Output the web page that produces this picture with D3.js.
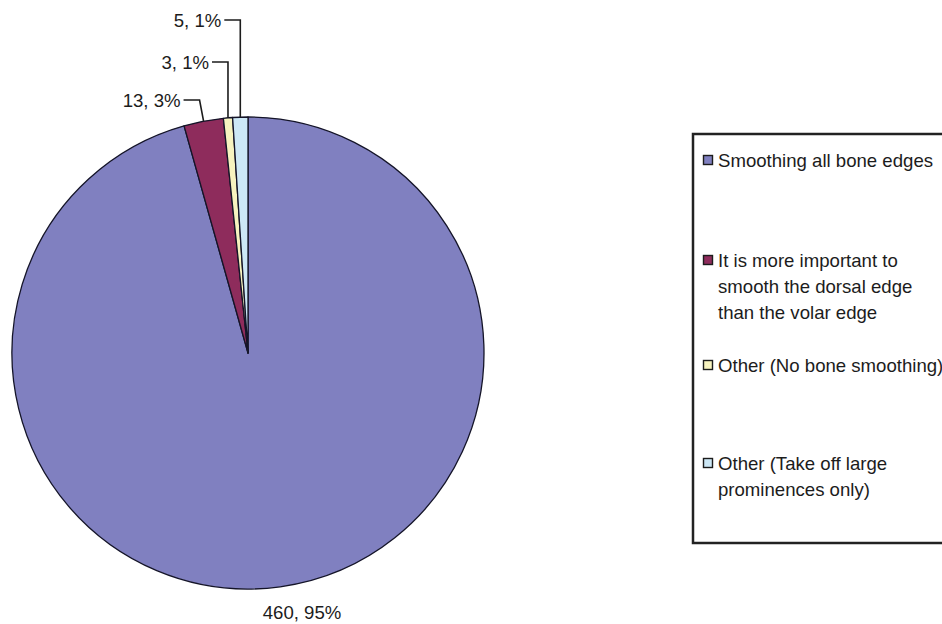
<!DOCTYPE html>
<html>
<head>
<meta charset="utf-8">
<script src="https://cdn.jsdelivr.net/npm/d3@7"></script>
<style>
  html, body { margin: 0; padding: 0; background: #fff; }
  svg { display: block; }
  text { font-family: "Liberation Sans", Arial, sans-serif; fill: #1c1c1c; }
</style>
</head>
<body>
<svg id="chart" width="942" height="624"></svg>
<script>
// ---- data ----
const categories = [
  "Smoothing all bone edges",
  "It is more important to smooth the dorsal edge than the volar edge",
  "Other (No bone smoothing)",
  "Other (Take off large prominences only)"
];
const legendLines = [
  ["Smoothing all bone edges"],
  ["It is more important to", "smooth the dorsal edge", "than the volar edge"],
  ["Other (No bone smoothing)"],
  ["Other (Take off large", "prominences only)"]
];
const values = [460, 13, 3, 5];
const percents = [95, 3, 1, 1];

// ---- styles / layout ----
const colors = ["#8080c0", "#8e2c5c", "#f7f3bf", "#cde8f6"];
const cx = 248, cy = 353, R = 236;
const fontSize = 18.6;
// label y for small slices (leader lines), index -> y
const leaderLabelY = { 1: 100, 2: 62, 3: 20 };
const bigLabelPos = { dx: 54, y: 619 };
const legendBox = { x: 693, y: 134, w: 270, h: 409 };
const legendEntryY = [160, 260, 365, 463];
const legendLineH = 26;

const svg = d3.select("#chart");

const pie = d3.pie().sort(null).value(d => d).startAngle(0).endAngle(2 * Math.PI);
const arcs = pie(values);
const arcGen = d3.arc().innerRadius(0).outerRadius(R);

const g = svg.append("g").attr("transform", `translate(${cx},${cy})`);
g.selectAll("path.slice")
  .data(arcs)
  .join("path")
  .attr("class", "slice")
  .attr("d", arcGen)
  .attr("fill", (d, i) => colors[i])
  .attr("stroke", "#141428")
  .attr("stroke-width", 1.3)
  .attr("stroke-linejoin", "round");

// labels
arcs.forEach((a, i) => {
  const mid = (a.startAngle + a.endAngle) / 2;
  const px = Math.sin(mid) * R;
  const py = -Math.cos(mid) * R;
  const txt = `${values[i]}, ${percents[i]}%`;
  if (leaderLabelY[i] !== undefined) {
    const ly = leaderLabelY[i] - cy;
    const cornerX = px - (i === 1 ? 4 : 0);
    g.append("polyline")
      .attr("points", [[cornerX - 16, ly], [cornerX, ly], [px, py]].map(p => p.join(",")).join(" "))
      .attr("fill", "none")
      .attr("stroke", "#1c1c1c")
      .attr("stroke-width", 1.6);
    g.append("text")
      .attr("x", cornerX - 19)
      .attr("y", ly)
      .attr("dy", "0.35em")
      .attr("text-anchor", "end")
      .style("font-size", fontSize + "px")
      .text(txt);
  } else {
    g.append("text")
      .attr("x", bigLabelPos.dx)
      .attr("y", bigLabelPos.y - cy)
      .attr("text-anchor", "middle")
      .style("font-size", fontSize + "px")
      .text(txt);
  }
});

// legend
svg.append("rect")
  .attr("x", legendBox.x)
  .attr("y", legendBox.y)
  .attr("width", legendBox.w)
  .attr("height", legendBox.h)
  .attr("fill", "#fff")
  .attr("stroke", "#222")
  .attr("stroke-width", 2.5);

const items = svg.selectAll("g.leg")
  .data(categories)
  .join("g")
  .attr("class", "leg")
  .attr("transform", (d, i) => `translate(${legendBox.x}, ${legendEntryY[i]})`);

items.append("rect")
  .attr("x", 10.5)
  .attr("y", -4.5)
  .attr("width", 9)
  .attr("height", 9)
  .attr("fill", (d, i) => colors[i])
  .attr("stroke", "#1c1c1c")
  .attr("stroke-width", 1.4);

items.each(function(d, i) {
  const t = d3.select(this).append("text")
    .attr("x", 25)
    .attr("y", 0)
    .style("font-size", fontSize + "px");
  legendLines[i].forEach((line, j) => {
    t.append("tspan")
      .attr("x", 25)
      .attr("y", j * legendLineH)
      .attr("dy", "0.35em")
      .text(line);
  });
});
</script>
</body>
</html>
